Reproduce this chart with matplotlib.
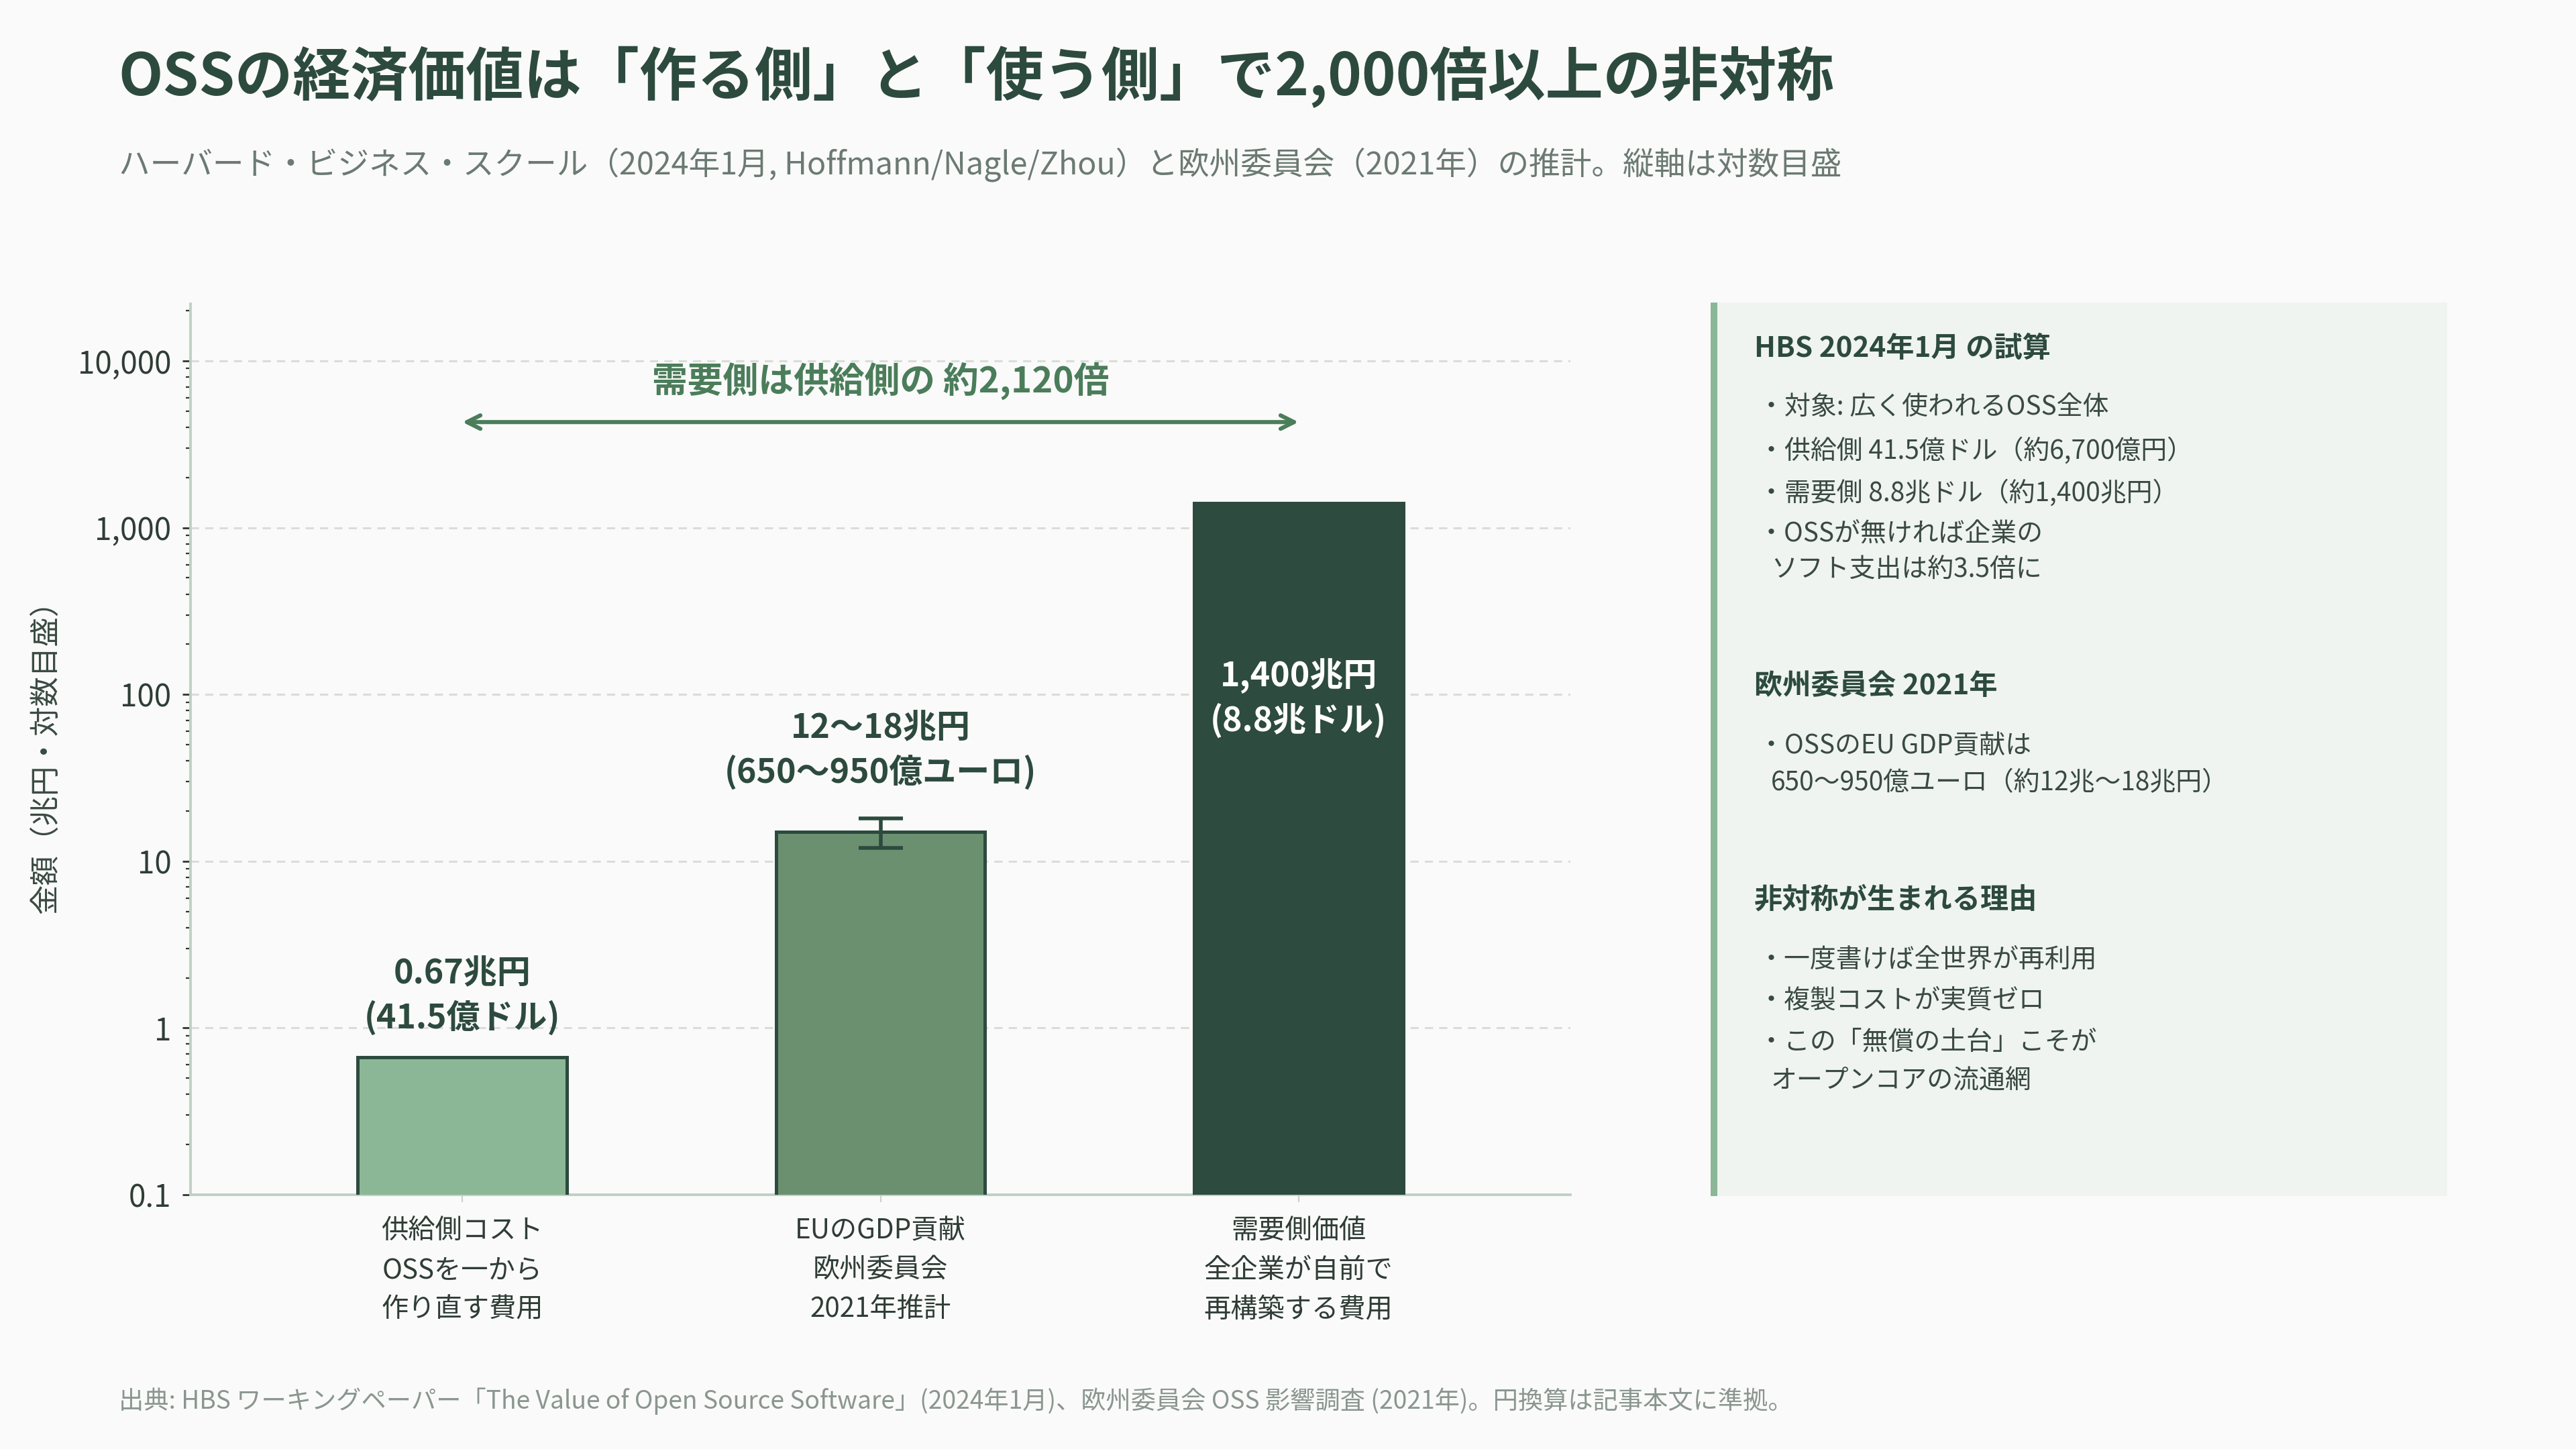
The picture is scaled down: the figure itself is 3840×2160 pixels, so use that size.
import numpy as np
import matplotlib
matplotlib.use("Agg")
import matplotlib.pyplot as plt
from matplotlib.patches import Rectangle
from matplotlib.ticker import FixedLocator, LogLocator, NullFormatter

plt.rcParams['font.family'] = ['Noto Sans CJK JP', 'DejaVu Sans']

# data (兆円)
categories = ["供給側コスト\nOSSを一から\n作り直す費用",
              "EUのGDP貢献\n欧州委員会\n2021年推計",
              "需要側価値\n全企業が自前で\n再構築する費用"]
values = [0.67, 15, 1400]
err_low = [0, 12, 0]
err_high = [0, 18, 0]
bar_labels = ["0.67兆円\n(41.5億ドル)", "12〜18兆円\n(650〜950億ユーロ)", "1,400兆円\n(8.8兆ドル)"]
ytick_vals = [0.1, 1, 10, 100, 1000, 10000]
ytick_labels = ["0.1", "1", "10", "100", "1,000", "10,000"]

bar_colors = ["#8BB797", "#6A9070", "#2D4B3E"]
dark = "#2D4A3E"
accent = "#4B7D5A"
bg = "#FAFAFA"

fig = plt.figure(figsize=(19.2, 10.8), dpi=200, facecolor=bg)
ax = fig.add_axes([0.074, 0.1755, 0.5356, 0.6148], facecolor=bg)

x = np.arange(len(categories))
ax.bar(x, values, width=0.5, color=bar_colors, edgecolor=dark, linewidth=1.8, zorder=3)

# error bar for EU range
yerr = np.array([[v - lo if lo else 0 for v, lo in zip(values, err_low)],
                 [hi - v if hi else 0 for v, hi in zip(values, err_high)]])
mask = np.array(err_high) > 0
ax.errorbar(x[mask], np.array(values)[mask], yerr=yerr[:, mask], fmt="none",
            ecolor=dark, elinewidth=2, capsize=12, capthick=2, zorder=4)

ax.set_yscale("log")
ax.set_ylim(0.1, 22000)
ax.set_xlim(-0.65, 2.65)

ax.yaxis.set_major_locator(FixedLocator(ytick_vals))
ax.set_yticklabels(ytick_labels, fontsize=16.5, color="#2F3D36")
ax.yaxis.set_minor_locator(LogLocator(base=10, subs=np.arange(2, 10), numticks=20))
ax.yaxis.set_minor_formatter(NullFormatter())
ax.tick_params(axis="y", which="major", length=4.3, width=1, color="#333333", pad=6)
ax.tick_params(axis="y", which="minor", length=2.4, width=0.8, color="#333333")

ax.set_xticks(x)
ax.set_xticklabels(categories, fontsize=14.5, color="#2F3D36", linespacing=1.55)
ax.tick_params(axis="x", length=4, width=0.8, color="#C8D3CC", pad=8)

ax.grid(axis="y", which="major", color="#D8DDD9", linestyle=(0, (4, 3)), linewidth=1.1, zorder=0)
for s in ["top", "right"]:
    ax.spines[s].set_visible(False)
for s in ["left", "bottom"]:
    ax.spines[s].set_color("#BFD0C5")
    ax.spines[s].set_linewidth(1.4)

ax.set_ylabel("金額（兆円・対数目盛）", fontsize=16, color="#3A4A42")
ax.yaxis.set_label_coords(-0.094, 0.50)

# value labels
label_y = [1.55, 46, 95]
for i, (lab, ly) in enumerate(zip(bar_labels, label_y)):
    col = "white" if i == 2 else dark
    ax.text(x[i], ly, lab, ha="center", va="center", fontsize=18, fontweight="bold",
            color=col, linespacing=1.35, zorder=5)

# ratio arrow
ax.annotate("", xy=(x[2], 4300), xytext=(x[0], 4300),
            arrowprops=dict(arrowstyle="<->", color=accent, lw=2.2,
                            shrinkA=0, shrinkB=0, mutation_scale=18))
ax.text(1, 7500, "需要側は供給側の 約2,120倍", ha="center", va="center",
        fontsize=19, fontweight="bold", color=accent)

# title / subtitle / footer
fig.text(0.046, 0.947, "OSSの経済価値は「作る側」と「使う側」で2,000倍以上の非対称",
         fontsize=31, fontweight="bold", color=dark, va="center")
fig.text(0.046, 0.886, "ハーバード・ビジネス・スクール（2024年1月, Hoffmann/Nagle/Zhou）と欧州委員会（2021年）の推計。縦軸は対数目盛",
         fontsize=16.8, color="#6B7A72", va="center")
fig.text(0.046, 1 - 2089 / 2160,
         "出典: HBS ワーキングペーパー「The Value of Open Source Software」(2024年1月)、欧州委員会 OSS 影響調査 (2021年)。円換算は記事本文に準拠。",
         fontsize=13.4, color="#8A968F", va="center")

# side panel
fig.patches.append(Rectangle((0.664, 0.1745), 0.286, 0.6167, transform=fig.transFigure,
                             facecolor="#EFF4F0", edgecolor="none", zorder=0))
fig.patches.append(Rectangle((0.664, 0.1745), 0.0027, 0.6167, transform=fig.transFigure,
                             facecolor="#8BB797", edgecolor="none", zorder=1))

panel_lines = [
    ("h", 520, "HBS 2024年1月 の試算"),
    ("b", 607, "・対象: 広く使われるOSS全体"),
    ("b", 672, "・供給側 41.5億ドル（約6,700億円）"),
    ("b", 735, "・需要側 8.8兆ドル（約1,400兆円）"),
    ("b", 796, "・OSSが無ければ企業の"),
    ("c", 850, "ソフト支出は約3.5倍に"),
    ("h", 1023, "欧州委員会 2021年"),
    ("b", 1113, "・OSSのEU GDP貢献は"),
    ("c", 1167, "650〜950億ユーロ（約12兆〜18兆円）"),
    ("h", 1342, "非対称が生まれる理由"),
    ("b", 1430, "・一度書けば全世界が再利用"),
    ("b", 1492, "・複製コストが実質ゼロ"),
    ("b", 1554, "・この「無償の土台」こそが"),
    ("c", 1611, "オープンコアの流通網"),
]
for kind, ypx, txt in panel_lines:
    yf = 1 - ypx / 2160
    if kind == "h":
        fig.text(0.681, yf, txt, fontsize=15.2, fontweight="bold", color=dark, va="center")
    elif kind == "b":
        fig.text(0.6825, yf, txt, fontsize=14, color="#3A4A42", va="center")
    else:
        fig.text(0.6875, yf, txt, fontsize=14, color="#3A4A42", va="center")

fig.savefig("out.png", dpi=200, facecolor=bg)
